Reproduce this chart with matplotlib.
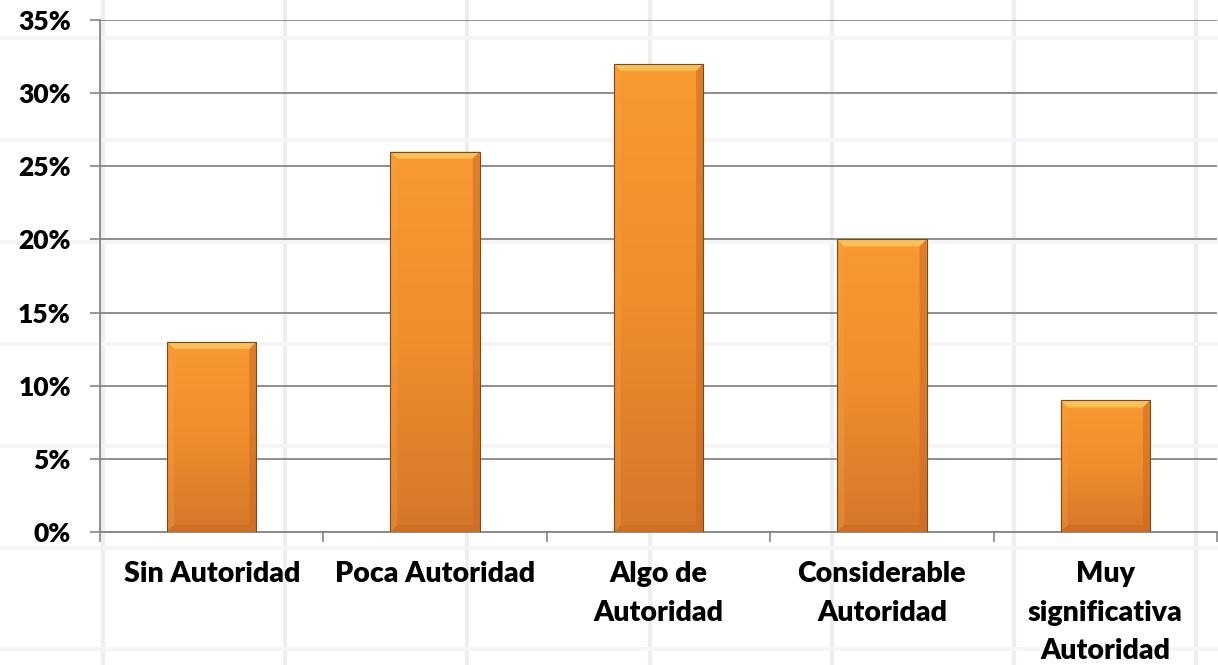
import numpy as np
import matplotlib
matplotlib.use("Agg")
import matplotlib.pyplot as plt
from matplotlib.lines import Line2D
from matplotlib.patches import Polygon
from matplotlib.colors import LinearSegmentedColormap

# Data
categories = ["Sin Autoridad", "Poca Autoridad", "Algo de\nAutoridad",
              "Considerable\nAutoridad", "Muy\nsignificativa\nAutoridad"]
values = [13, 26, 32, 20, 9]
y_ticks = [0, 5, 10, 15, 20, 25, 30, 35]
y_tick_labels = [f"{v}%" for v in y_ticks]

plt.rcParams["font.family"] = ["Lato", "DejaVu Sans"]
plt.rcParams["font.weight"] = "heavy"

W, H = 1218, 665
fig = plt.figure(figsize=(W / 100, H / 100), dpi=100)
fig.patch.set_facecolor("white")

# faint worksheet cell lines behind the chart
for xp in 103 + 182.2 * np.arange(7):
    fig.add_artist(Line2D([xp / W, xp / W], [0, 1], color="#efedf1", lw=3.0,
                          transform=fig.transFigure, zorder=0))
for yp in 38 + 101.9 * np.arange(7):
    fig.add_artist(Line2D([0, 1], [1 - yp / H, 1 - yp / H], color="#f5f4f6", lw=3.0,
                          transform=fig.transFigure, zorder=0))

ax = fig.add_axes([100 / W, 1 - 532 / H, 1117 / W, 512 / H])
ax.set_facecolor("none")
ax.set_zorder(2)

x = np.arange(len(categories))
ax.set_xlim(-0.5, len(categories) - 0.5)
ax.set_ylim(0, 35)

grid_col = "#868686"
ax.set_yticks(y_ticks)
ax.set_yticklabels(y_tick_labels, fontsize=19, fontweight="heavy")
ax.yaxis.grid(True, color=grid_col, lw=1.3)
ax.set_axisbelow(True)
ax.tick_params(axis="y", length=7, width=1.2, color=grid_col, pad=14)

ax.set_xticks(x)
ax.set_xticklabels(categories, fontsize=20.5, fontweight="heavy", linespacing=1.6)
ax.tick_params(axis="x", which="major", length=0, pad=21)
ax.set_xticks(np.arange(len(categories) + 1) - 0.5, minor=True)
ax.tick_params(axis="x", which="minor", length=7, width=1.2, color=grid_col)

for s in ["top", "right"]:
    ax.spines[s].set_visible(False)
for s in ["left", "bottom"]:
    ax.spines[s].set_color(grid_col)
    ax.spines[s].set_linewidth(1.3)

bar_w = 0.4
bars = ax.bar(x, values, width=bar_w, color="#f08a2c", edgecolor="none", zorder=3)

face_cmap = LinearSegmentedColormap.from_list(
    "face", ["#d67629", "#f08d2d", "#fa9a31"])
grad = np.linspace(0, 1, 256).reshape(-1, 1)

fig.canvas.draw()
to_px = ax.transData
to_data = ax.transData.inverted()
bev = 7.0  # bevel size in pixels

for b in bars:
    x0, y0 = b.get_x(), b.get_y()
    x1, y1 = x0 + b.get_width(), y0 + b.get_height()
    im = ax.imshow(grad, aspect="auto", cmap=face_cmap, origin="lower",
                   extent=(x0, x1, y0, y1), zorder=3.1)
    im.set_clip_path(b)
    (px0, py0), (px1, py1) = to_px.transform([(x0, y0), (x1, y1)])
    inner = [(px0 + bev, py1 - bev), (px1 - bev, py1 - bev),
             (px1 - bev, py0 + bev), (px0 + bev, py0 + bev)]
    outer = [(px0, py1), (px1, py1), (px1, py0), (px0, py0)]
    sides = [
        ([outer[0], outer[1], inner[1], inner[0]], "#fcc45c", 0.95),  # top
        ([outer[1], outer[2], inner[2], inner[1]], "#c8691f", 0.55),  # right
        ([outer[2], outer[3], inner[3], inner[2]], "#c86a22", 0.55),  # bottom
        ([outer[3], outer[0], inner[0], inner[3]], "#f7a040", 0.35),  # left
    ]
    for pts, col, a in sides:
        ax.add_patch(Polygon(to_data.transform(pts), closed=True, facecolor=col,
                             edgecolor="none", alpha=a, zorder=3.2))
    ax.add_patch(Polygon(to_data.transform(outer), closed=True, facecolor="none",
                         edgecolor="#7a4a1e", lw=0.8, zorder=3.3))

fig.savefig("out.png", dpi=100, facecolor="white")
